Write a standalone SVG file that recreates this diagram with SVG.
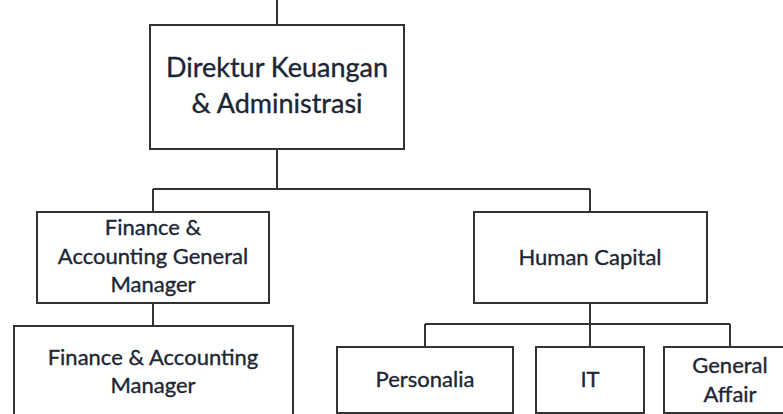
<svg xmlns="http://www.w3.org/2000/svg" width="783" height="414" viewBox="0 0 783 414">
<style>
.box{fill:#fff;stroke:#333;stroke-width:2}
.ln{fill:none;stroke:#333;stroke-width:2}
text{font-family:Lato,"Open Sans","Liberation Sans",sans-serif;fill:#1c2636;stroke:#1c2636;stroke-width:0.35;text-anchor:middle}
.big{font-size:27px}
.sm{font-size:22px}
</style>
<rect width="783" height="414" fill="#fff"/>
<g id="connectors">
<path class="ln" d="M277,0V25"/>
<path class="ln" d="M277,149V189M153,189H590M153,189V212M590,189V212"/>
<path class="ln" d="M153,303V326"/>
<path class="ln" d="M590,303V324M425,324H730M425,324V347M590,324V347M730,324V347"/>
</g>
<g id="direktur">
<rect class="box" x="150" y="25" width="254" height="124"/>
<text class="big" x="277" y="77">Direktur Keuangan</text>
<text class="big" x="277" y="113">&amp; Administrasi</text>
</g>
<g id="fagm">
<rect class="box" x="37" y="212" width="232" height="91"/>
<text class="sm" x="153" y="235">Finance &amp;</text>
<text class="sm" x="153" y="264">Accounting General</text>
<text class="sm" x="153" y="292">Manager</text>
</g>
<g id="fam">
<rect class="box" x="14" y="326" width="279" height="100"/>
<text class="sm" x="153" y="365">Finance &amp; Accounting</text>
<text class="sm" x="153" y="393">Manager</text>
</g>
<g id="hc">
<rect class="box" x="474" y="212" width="233" height="91"/>
<text class="sm" x="590" y="265">Human Capital</text>
</g>
<g id="personalia">
<rect class="box" x="337" y="347" width="176" height="66"/>
<text class="sm" x="425" y="387">Personalia</text>
</g>
<g id="it">
<rect class="box" x="536" y="347" width="108" height="66"/>
<text class="sm" x="590" y="387">IT</text>
</g>
<g id="ga">
<rect class="box" x="664" y="347" width="130" height="66"/>
<text class="sm" x="730" y="373">General</text>
<text class="sm" x="730" y="402">Affair</text>
</g>
</svg>
